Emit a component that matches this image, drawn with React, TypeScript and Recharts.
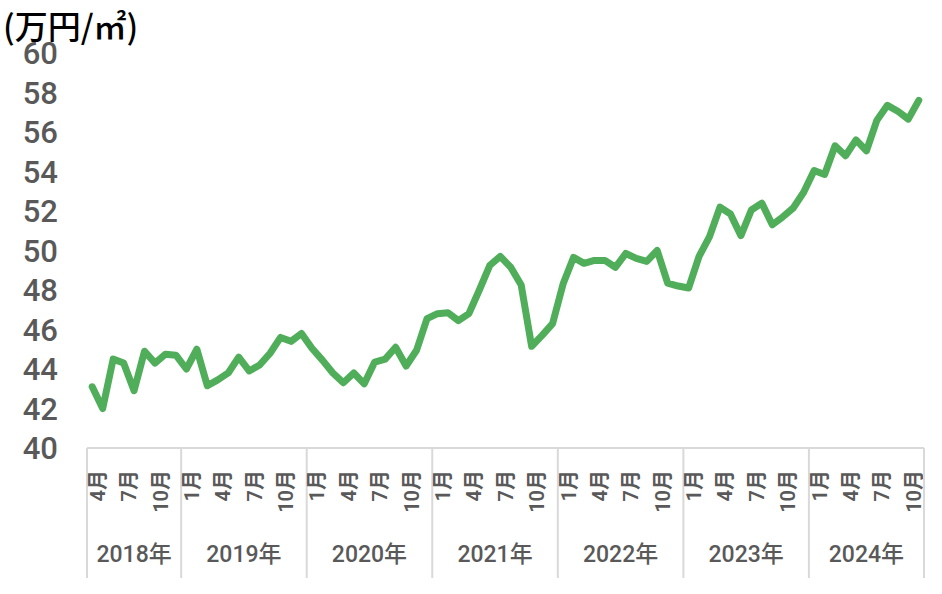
import React from 'react';
import { LineChart, Line, XAxis, YAxis } from 'recharts';

const years = ['2018年', '2019年', '2020年', '2021年', '2022年', '2023年', '2024年'];
const monthsPerYear = [9, 12, 12, 12, 12, 12, 11];
const firstMonth = [4, 1, 1, 1, 1, 1, 1];
const labeledMonths = [1, 4, 7, 10];

// 万円/㎡, monthly from 2018-04 to 2024-11
const prices = [
  43.1, 42.0, 44.5, 44.3, 42.9, 44.9, 44.3, 44.75, 44.7,
  44.0, 45.0, 43.15, 43.45, 43.8, 44.6, 43.9, 44.2, 44.8, 45.6, 45.4, 45.8,
  45.05, 44.45, 43.8, 43.3, 43.8, 43.25, 44.35, 44.5, 45.1, 44.15, 44.95, 46.55,
  46.8, 46.85, 46.45, 46.8, 48.0, 49.25, 49.7, 49.15, 48.25, 45.15, 45.7, 46.3,
  48.3, 49.65, 49.35, 49.5, 49.5, 49.15, 49.85, 49.6, 49.45, 50.0, 48.35, 48.2,
  48.1, 49.7, 50.7, 52.2, 51.85, 50.75, 52.05, 52.4, 51.3, 51.7, 52.15, 52.95,
  54.05, 53.85, 55.3, 54.8, 55.6, 55.05, 56.6, 57.35, 57.05, 56.65, 57.6,
];

const yTicks = [40, 42, 44, 46, 48, 50, 52, 54, 56, 58, 60];

type Row = { i: number; year: string; month: number; price: number };
const data: Row[] = [];
const yearStarts: number[] = [];
{
  let idx = 0;
  years.forEach((y, k) => {
    yearStarts.push(idx);
    for (let m = 0; m < monthsPerYear[k]; m++) {
      data.push({ i: idx, year: y, month: firstMonth[k] + m, price: prices[idx] });
      idx++;
    }
  });
}
const total = data.length;

const boundaries = [...yearStarts.map((s) => s - 0.5), total - 0.5];
const yearCenters = new Map<number, string>();
yearStarts.forEach((s, k) => yearCenters.set(s + (monthsPerYear[k] - 1) / 2, years[k]));
const monthLabels = new Map<number, string>();
data.forEach((d) => {
  if (labeledMonths.includes(d.month)) monthLabels.set(d.i, `${d.month}月`);
});

const xTicks = Array.from(
  new Set<number>([...boundaries, ...data.map((d) => d.i), ...Array.from(yearCenters.keys())])
).sort((a, b) => a - b);

const FONT = 'Roboto, "Noto Sans CJK JP", sans-serif';
const GRAY = '#595959';
const AXIS = '#d9d9d9';

const XTick = (props: any) => {
  const { x, y, payload } = props;
  const v: number = payload.value;
  const els: React.ReactNode[] = [];
  if (boundaries.includes(v)) {
    els.push(<line key="b" x1={x} x2={x} y1={y} y2={y + 130} stroke={AXIS} strokeWidth={2} />);
  }
  const ml = monthLabels.get(v);
  if (ml) {
    els.push(
      <text
        key="m"
        transform={`translate(${x + 5.5},${y + 22}) rotate(-90)`}
        textAnchor="end"
        dominantBaseline="central"
        fill={GRAY}
        fontSize={20}
        fontWeight={600}
        fontFamily={FONT}
      >
        {ml}
      </text>
    );
  }
  const yl = yearCenters.get(v);
  if (yl) {
    els.push(
      <text
        key="y"
        x={x}
        y={y + 106}
        textAnchor="middle"
        dominantBaseline="central"
        fill={GRAY}
        fontSize={23}
        fontWeight={500}
        fontFamily={FONT}
      >
        {yl}
      </text>
    );
  }
  return <g>{els}</g>;
};

export default function App() {
  return (
    <div style={{ position: 'absolute', left: 0, top: 0, width: 942, height: 594, background: '#fff' }}>
      <LineChart width={942} height={594} data={data} margin={{ top: 53, right: 18, bottom: 0, left: 0 }}>
        <XAxis
          dataKey="i"
          type="number"
          domain={[-0.5, total - 0.5]}
          ticks={xTicks}
          interval={0}
          height={146}
          tickLine={false}
          tickSize={0}
          tickMargin={0}
          axisLine={{ stroke: AXIS, strokeWidth: 2 }}
          tick={<XTick />}
        />
        <YAxis
          domain={[40, 60]}
          ticks={yTicks}
          interval={0}
          width={87}
          axisLine={false}
          tickLine={false}
          tickSize={0}
          tickMargin={29}
          tick={{ fill: GRAY, fontSize: 31, fontWeight: 500, fontFamily: FONT }}
        />
        <Line
          type="linear"
          dataKey="price"
          stroke="#50AE5A"
          strokeWidth={7}
          strokeLinejoin="round"
          strokeLinecap="round"
          dot={false}
          activeDot={false}
          isAnimationActive={false}
        />
      </LineChart>
      <div
        style={{
          position: 'absolute',
          left: 3,
          top: 9,
          fontFamily: '"Noto Sans CJK JP", sans-serif',
          fontSize: 33,
          fontWeight: 500,
          lineHeight: '33px',
          color: '#000',
          whiteSpace: 'nowrap',
        }}
      >
        (万円/㎡)
      </div>
    </div>
  );
}
